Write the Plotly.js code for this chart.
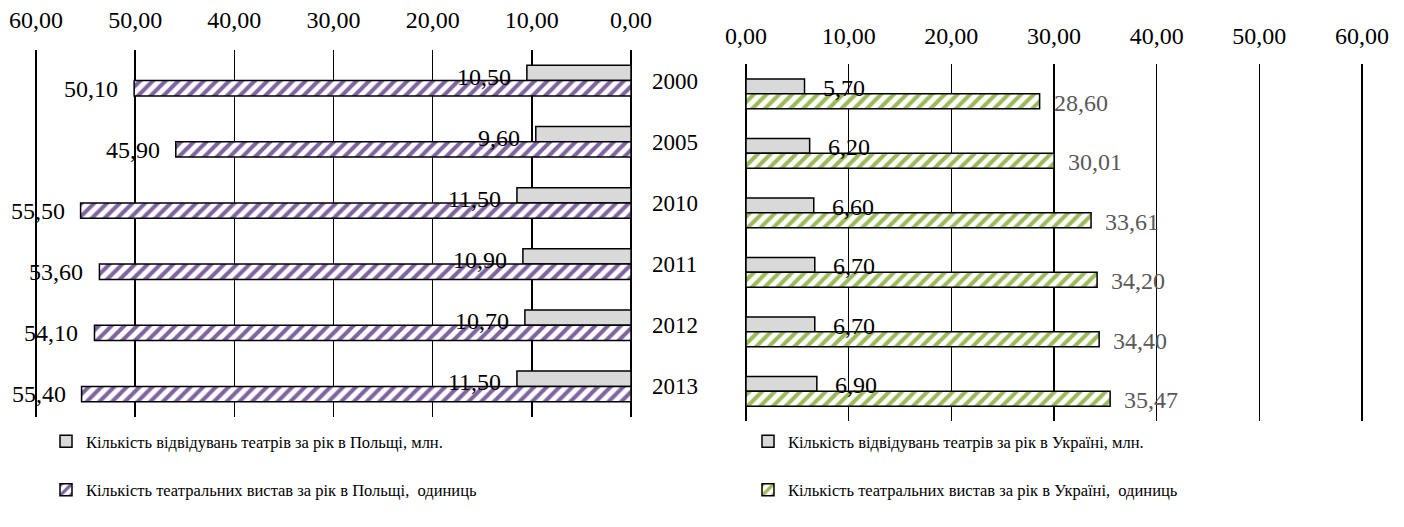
<!DOCTYPE html>
<html>
<head>
<meta charset="utf-8">
<script src="https://cdn.plot.ly/plotly-3.0.1.min.js"></script>
<style>html,body{margin:0;padding:0;background:#fff;}#chart{width:1404px;height:527px;}</style>
</head>
<body>
<div id="chart"></div>
<script>
// ---- data ----
const years = ['2000', '2005', '2010', '2011', '2012', '2013'];
const plVisits = [10.50, 9.60, 11.50, 10.90, 10.70, 11.50];
const plShows = [50.10, 45.90, 55.50, 53.60, 54.10, 55.40];
const uaVisits = [5.70, 6.20, 6.60, 6.70, 6.70, 6.90];
const uaShows = [28.60, 30.01, 33.61, 34.20, 34.40, 35.47];
const tickVals = [0, 10, 20, 30, 40, 50, 60];
const legendNames = {
  plVisits: 'Кількість відвідувань театрів за рік в Польщі, млн.',
  plShows: 'Кількість театральних вистав за рік в Польщі,  одиниць',
  uaVisits: 'Кількість відвідувань театрів за рік в Україні, млн.',
  uaShows: 'Кількість театральних вистав за рік в Україні,  одиниць'
};

const FONT = '"Liberation Serif", "Times New Roman", serif';
const fmt = v => v.toFixed(2).replace('.', ',');
const tickText = tickVals.map(fmt);
const W = 1404, H = 527;
const line = {color: '#000', width: 1.5};

const traces = [
  {type: 'bar', orientation: 'h', y: years, x: plVisits, name: legendNames.plVisits,
   xaxis: 'x', yaxis: 'y', legend: 'legend', legendgroup: 'a',
   marker: {color: '#d9d9d9', line: line}},
  {type: 'bar', orientation: 'h', y: years, x: plShows, name: legendNames.plShows,
   xaxis: 'x', yaxis: 'y', legend: 'legend', legendgroup: 'b',
   marker: {color: '#ffffff', line: line,
     pattern: {shape: '/', fgcolor: '#8064a2', bgcolor: '#ffffff', size: 9, solidity: 0.45}}},
  {type: 'bar', orientation: 'h', y: years, x: uaVisits, name: legendNames.uaVisits,
   xaxis: 'x2', yaxis: 'y2', legend: 'legend2', legendgroup: 'c',
   marker: {color: '#d9d9d9', line: line}},
  {type: 'bar', orientation: 'h', y: years, x: uaShows, name: legendNames.uaShows,
   xaxis: 'x2', yaxis: 'y2', legend: 'legend2', legendgroup: 'd',
   marker: {color: '#ffffff', line: line,
     pattern: {shape: '/', fgcolor: '#9bbb59', bgcolor: '#ffffff', size: 9, solidity: 0.45}}}
];

const annotations = [];
function addLabels(vals, xref, yref, anchor, xshift, yshift, color) {
  vals.forEach((v, i) => {
    annotations.push({x: v, y: i, xref: xref, yref: yref, text: fmt(v), showarrow: false,
      xanchor: anchor, yanchor: 'middle', xshift: xshift, yshift: yshift,
      font: {family: FONT, size: 24, color: color}});
  });
}
addLabels(plVisits, 'x', 'y', 'right', -14, 4, '#000');
addLabels(plShows, 'x', 'y', 'right', -14, -8, '#000');
addLabels(uaVisits, 'x2', 'y2', 'left', 16, 6, '#000');
addLabels(uaShows, 'x2', 'y2', 'left', 12, -9, '#595959');

const xCommon = {
  type: 'linear', tickmode: 'array', tickvals: tickVals, ticktext: tickText, side: 'top',
  showgrid: true, gridcolor: '#000', gridwidth: 1.5,
  zeroline: true, zerolinecolor: '#000', zerolinewidth: 1.5,
  showline: false, ticks: '', tickfont: {family: FONT, size: 24, color: '#000'},
  fixedrange: true
};
const yRange = [years.length - 0.5, -0.5];

const layout = {
  width: W, height: H,
  margin: {l: 0, r: 0, t: 0, b: 0},
  paper_bgcolor: '#fff', plot_bgcolor: 'rgba(0,0,0,0)',
  barmode: 'group', bargap: 0.5, bargroupgap: 0,
  font: {family: FONT, color: '#000'},
  xaxis: Object.assign({}, xCommon, {domain: [31 / W, 631 / W], range: [60.5, 0], anchor: 'y', ticklabelstandoff: 16}),
  yaxis: {domain: [(H - 417) / H, (H - 50) / H], type: 'category', categoryorder: 'array', categoryarray: years,
    range: yRange, autorange: false,
    anchor: 'x', side: 'right', showgrid: false, zeroline: false, showline: false, ticks: '',
    tickfont: {family: FONT, size: 23, color: '#000'}, ticklabelstandoff: 20, fixedrange: true},
  xaxis2: Object.assign({}, xCommon, {domain: [746 / W, 1363 / W], range: [0, 60.1], anchor: 'y2', ticklabelstandoff: 14}),
  yaxis2: {domain: [(H - 421) / H, (H - 64) / H], type: 'category', categoryorder: 'array', categoryarray: years,
    range: yRange, autorange: false,
    anchor: 'x2', showticklabels: false, showgrid: false, zeroline: false, showline: false, ticks: '', fixedrange: true},
  showlegend: true,
  legend: {x: 46 / W, xanchor: 'left', y: (H - 424) / H, yanchor: 'top', orientation: 'v',
    bgcolor: 'rgba(0,0,0,0)', borderwidth: 0, tracegroupgap: 24,
    font: {family: FONT, size: 16.5, color: '#000'}},
  legend2: {x: 748 / W, xanchor: 'left', y: (H - 424) / H, yanchor: 'top', orientation: 'v',
    bgcolor: 'rgba(0,0,0,0)', borderwidth: 0, tracegroupgap: 24,
    font: {family: FONT, size: 16.5, color: '#000'}},
  annotations: annotations
};

Plotly.newPlot('chart', traces, layout, {displayModeBar: false, staticPlot: true});
</script>
</body>
</html>
